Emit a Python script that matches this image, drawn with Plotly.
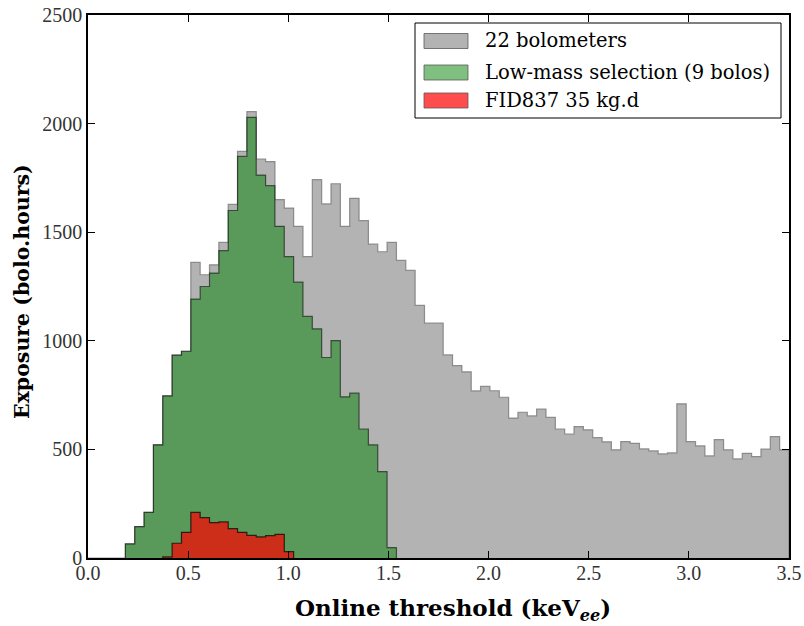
import numpy as np
import plotly.graph_objects as go

# histogram binning: 75 bins between 0 and 3.5 keVee
bin_edges = np.linspace(0, 3.5, 76)

# exposure per bin (bolo.hours)
all_bolos = [0, 0, 0, 0, 65, 144, 210, 521, 746, 934, 952,
             1361, 1304, 1350, 1453, 1628, 1872, 2055, 1837, 1825, 1650,
             1611, 1527, 1388, 1742, 1630, 1723, 1527, 1656, 1553, 1445,
             1410, 1453, 1370, 1324, 1163, 1081, 1081, 935, 886, 857,
             769, 790, 770, 740, 644, 671, 654, 685, 647, 594,
             571, 605, 590, 554, 535, 498, 536, 528, 502, 493,
             479, 484, 710, 536, 516, 470, 545, 498, 456, 482,
             467, 501, 559, 498]

low_mass_first_bin = 4
low_mass = [65, 144, 210, 521, 746, 934, 952, 1192, 1250, 1312,
            1415, 1600, 1849, 2029, 1763, 1714, 1527, 1388, 1270, 1112,
            1055, 923, 1001, 742, 759, 594, 521, 398, 48]

fid837_first_bin = 8
fid837 = [5, 68, 118, 210, 186, 163, 166, 135, 118, 104, 97, 103, 109, 29]


def step_xy(first_bin, counts):
    edges = bin_edges[first_bin:first_bin + len(counts) + 1]
    x = [edges[0]] + list(edges[:-1]) + [edges[-1], edges[-1]]
    y = [0] + list(counts) + [counts[-1], 0]
    return x, y


fig = go.Figure()

series = [
    # name, first bin, counts, fill, edge, legend swatch colour
    ("22 bolometers", 0, all_bolos, "#b3b3b3", "rgba(120,120,120,0.8)", "#b3b3b3"),
    ("Low-mass selection (9 bolos)", low_mass_first_bin, low_mass,
     "rgba(0,128,0,0.5)", "rgba(0,0,0,0.55)", "#7fbf7f"),
    ("FID837 35 kg.d", fid837_first_bin, fid837,
     "rgba(255,0,0,0.7)", "rgba(0,0,0,0.7)", "#ff4d4d"),
]
for name, first, counts, fill, edge, _ in series:
    x, y = step_xy(first, counts)
    fig.add_trace(go.Scatter(
        x=x, y=y, name=name, mode="lines", line_shape="hv",
        line=dict(color=edge, width=1.2),
        fill="tozeroy", fillcolor=fill, showlegend=False,
    ))

font = "DejaVu Serif"
axis_common = dict(
    showline=True, linecolor="black", linewidth=1.5, mirror="ticks",
    ticks="inside", ticklen=7, tickwidth=1, tickcolor="black",
    showgrid=False, zeroline=False, automargin=False,
    ticklabeloverflow="allow",
    tickfont=dict(family="Liberation Serif", size=20, color="#333333"),
)
fig.update_xaxes(range=[0, 3.5], tick0=0, dtick=0.5, tickformat=".1f",
                 ticklabelstandoff=-4, **axis_common)
fig.update_yaxes(range=[0, 2500], tick0=0, dtick=500, **axis_common)

# plot area in page pixels
left, top, w, h = 88, 15, 701, 543


def px(x):
    return (x - left) / w


def py(y):
    return (top + h - y) / h


# axis titles
fig.add_annotation(xref="paper", yref="paper", x=px(453), y=py(609),
                   xanchor="center", yanchor="middle", showarrow=False,
                   text="<b>Online threshold (keV<sub><i>ee</i></sub>)</b>",
                   font=dict(family=font, size=23, color="black"))
fig.add_annotation(xref="paper", yref="paper", x=px(22), y=py(292),
                   xanchor="center", yanchor="middle", showarrow=False,
                   textangle=-90, text="<b>Exposure (bolo.hours)</b>",
                   font=dict(family=font, size=20.5, color="black"))

# legend drawn by hand so the swatches are wide rectangles
fig.add_shape(type="rect", xref="paper", yref="paper",
              x0=px(415), x1=px(781), y0=py(118), y1=py(23),
              line=dict(color="black", width=1), fillcolor="white")
row_centres = [41, 72.5, 100.5]
for (name, _, _, _, edge, swatch), yc in zip(series, row_centres):
    fig.add_shape(type="rect", xref="paper", yref="paper",
                  x0=px(424), x1=px(468), y0=py(yc + 7.5), y1=py(yc - 7.5),
                  line=dict(color="rgba(90,90,90,0.8)", width=1), fillcolor=swatch)
    fig.add_annotation(xref="paper", yref="paper", x=px(483), y=py(yc),
                       xanchor="left", yanchor="middle", showarrow=False,
                       text=name, font=dict(family=font, size=19.5, color="black"))

fig.update_layout(
    width=804, height=626,
    margin=dict(l=left, r=804 - left - w, t=top, b=626 - top - h),
    paper_bgcolor="white", plot_bgcolor="white",
    showlegend=False,
)

# drop the default 8px page margin so the figure fills the window
fig.write_html("out.html", config={"displayModeBar": False},
               post_script="document.body.style.margin = '0';")
